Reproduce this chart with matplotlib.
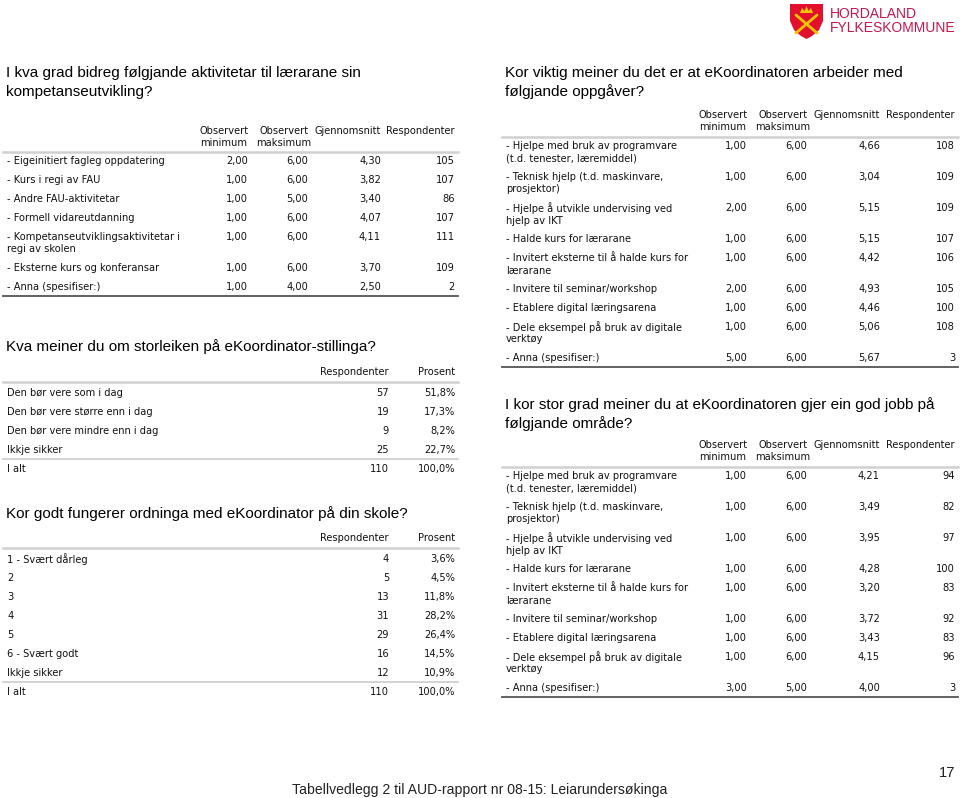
import matplotlib
matplotlib.use("Agg")
import matplotlib.pyplot as plt
from matplotlib.patches import Polygon

# ── Data ──────────────────────────────────────────────────────────────────────
Q1_TITLE = "I kva grad bidreg følgjande aktivitetar til lærarane sin\nkompetanseutvikling?"
Q1_LABELS = [
    "- Eigeinitiert fagleg oppdatering",
    "- Kurs i regi av FAU",
    "- Andre FAU-aktivitetar",
    "- Formell vidareutdanning",
    "- Kompetanseutviklingsaktivitetar i\nregi av skolen",
    "- Eksterne kurs og konferansar",
    "- Anna (spesifiser:)",
]
Q1_MIN = [2.00, 1.00, 1.00, 1.00, 1.00, 1.00, 1.00]
Q1_MAX = [6.00, 6.00, 5.00, 6.00, 6.00, 6.00, 4.00]
Q1_AVG = [4.30, 3.82, 3.40, 4.07, 4.11, 3.70, 2.50]
Q1_N   = [105, 107, 86, 107, 111, 109, 2]

Q2_TITLE = "Kva meiner du om storleiken på eKoordinator-stillinga?"
Q2_LABELS = ["Den bør vere som i dag", "Den bør vere større enn i dag",
             "Den bør vere mindre enn i dag", "Ikkje sikker"]
Q2_N   = [57, 19, 9, 25]
Q2_PCT = [51.8, 17.3, 8.2, 22.7]

Q3_TITLE = "Kor godt fungerer ordninga med eKoordinator på din skole?"
Q3_LABELS = ["1 - Svært dårleg", "2", "3", "4", "5", "6 - Svært godt", "Ikkje sikker"]
Q3_N   = [4, 5, 13, 31, 29, 16, 12]
Q3_PCT = [3.6, 4.5, 11.8, 28.2, 26.4, 14.5, 10.9]

TASKS = [
    "- Hjelpe med bruk av programvare\n(t.d. tenester, læremiddel)",
    "- Teknisk hjelp (t.d. maskinvare,\nprosjektor)",
    "- Hjelpe å utvikle undervising ved\nhjelp av IKT",
    "- Halde kurs for lærarane",
    "- Invitert eksterne til å halde kurs for\nlærarane",
    "- Invitere til seminar/workshop",
    "- Etablere digital læringsarena",
    "- Dele eksempel på bruk av digitale\nverktøy",
    "- Anna (spesifiser:)",
]

Q4_TITLE = "Kor viktig meiner du det er at eKoordinatoren arbeider med\nfølgjande oppgåver?"
Q4_MIN = [1.00, 1.00, 2.00, 1.00, 1.00, 2.00, 1.00, 1.00, 5.00]
Q4_MAX = [6.00, 6.00, 6.00, 6.00, 6.00, 6.00, 6.00, 6.00, 6.00]
Q4_AVG = [4.66, 3.04, 5.15, 5.15, 4.42, 4.93, 4.46, 5.06, 5.67]
Q4_N   = [108, 109, 109, 107, 106, 105, 100, 108, 3]

Q5_TITLE = "I kor stor grad meiner du at eKoordinatoren gjer ein god jobb på\nfølgjande område?"
Q5_MIN = [1.00, 1.00, 1.00, 1.00, 1.00, 1.00, 1.00, 1.00, 3.00]
Q5_MAX = [6.00, 6.00, 6.00, 6.00, 6.00, 6.00, 6.00, 6.00, 5.00]
Q5_AVG = [4.21, 3.49, 3.95, 4.28, 3.20, 3.72, 3.43, 4.15, 4.00]
Q5_N   = [94, 82, 97, 100, 83, 92, 83, 96, 3]

STAT_HEAD = ["Observert\nminimum", "Observert\nmaksimum", "Gjennomsnitt", "Respondenter"]
FREQ_HEAD = ["Respondenter", "Prosent"]
FOOTER = "Tabellvedlegg 2 til AUD-rapport nr 08-15: Leiarundersøkinga"
PAGE = "17"

# ── Style ─────────────────────────────────────────────────────────────────────
TITLE_FONT = "Liberation Sans"
BODY_FONT  = "DejaVu Sans"
TITLE_SIZE = 11.0
BODY_SIZE  = 7.1
TXT   = "#111111"
LIGHT = "#d0d0d0"
DARK  = "#555555"
ROW1  = 19      # single-line row height (px)
ROW2  = 31      # two-line row height (px)
LINE2 = 12.5    # second-line offset inside a row


def fmt(v):
    return f"{v:.2f}".replace(".", ",")


def fmt_pct(v):
    return f"{v:.1f}%".replace(".", ",")


def title(ax, x, y, text):
    # y = centre of the first line; further lines 19 px below
    for i, part in enumerate(text.split("\n")):
        ax.text(x, y + i * 19, part, ha="left", va="center", fontsize=TITLE_SIZE,
                family=TITLE_FONT, color="black")


def body(ax, x, y, text, ha="left"):
    ax.text(x, y, text, ha=ha, va="center", fontsize=BODY_SIZE,
            family=BODY_FONT, color=TXT)


def label(ax, x, y, text):
    for i, part in enumerate(text.split("\n")):
        body(ax, x, y + i * LINE2, part)


def stat_table(ax, x0, x1, y_head, y_first, cols, labels, mins, maxs, avgs, ns):
    # header
    for c, h in zip(cols, STAT_HEAD):
        parts = h.split("\n")
        for i, part in enumerate(parts):
            if len(parts) > 1:
                ax.text(c - 24, y_head + i * LINE2, part, ha="center", va="center",
                        fontsize=BODY_SIZE, family=BODY_FONT, color=TXT)
            else:
                body(ax, c, y_head, part, ha="right")
    ax.plot([x0, x1], [y_first - 9, y_first - 9], color=LIGHT, lw=1.8)
    y = y_first
    for lab, a, b, m, n in zip(labels, mins, maxs, avgs, ns):
        label(ax, x0 + 4, y, lab)
        body(ax, cols[0], y, fmt(a), "right")
        body(ax, cols[1], y, fmt(b), "right")
        body(ax, cols[2], y, fmt(m), "right")
        body(ax, cols[3], y, str(n), "right")
        last = y
        y += ROW2 if "\n" in lab else ROW1
    ax.plot([x0, x1], [last + 9, last + 9], color=DARK, lw=1.3)


def freq_table(ax, x0, x1, y_head, cols, labels, ns, pcts):
    body(ax, cols[0], y_head, FREQ_HEAD[0], "right")
    body(ax, cols[1], y_head, FREQ_HEAD[1], "right")
    ax.plot([x0, x1], [y_head + 10, y_head + 10], color=LIGHT, lw=1.8)
    y = y_head + 21
    for lab, n, p in zip(labels, ns, pcts):
        body(ax, x0 + 4, y, lab)
        body(ax, cols[0], y, str(n), "right")
        body(ax, cols[1], y, fmt_pct(p), "right")
        y += ROW1
    ax.plot([x0, x1], [y - 10, y - 10], color=LIGHT, lw=1.3)
    body(ax, x0 + 4, y, "I alt")
    body(ax, cols[0], y, str(sum(ns)), "right")
    body(ax, cols[1], y, fmt_pct(100.0), "right")


def logo(ax):
    shield = Polygon([(790, 4), (823, 4), (823, 21), (819, 30), (812, 36),
                      (806.5, 39), (801, 36), (794, 30), (790, 21)],
                     closed=True, facecolor="#e3102d", edgecolor="none")
    ax.add_patch(shield)
    ax.plot([796, 817], [33, 15], color="#f7c600", lw=2.0, solid_capstyle="round")
    ax.plot([796, 817], [15, 33], color="#f7c600", lw=2.0, solid_capstyle="round")
    crown = Polygon([(800, 13), (802, 8), (804.5, 11), (806.5, 6), (808.5, 11),
                     (811, 8), (813, 13)], closed=True, facecolor="#f7c600",
                    edgecolor="none")
    ax.add_patch(crown)
    for yy, t in [(14, "HORDALAND"), (28, "FYLKESKOMMUNE")]:
        ax.text(830, yy, t, ha="left", va="center", fontsize=10.0,
                family="Liberation Sans", color="#c8164a")


# ── Plot ──────────────────────────────────────────────────────────────────────
fig = plt.figure(figsize=(9.6, 7.98), dpi=100)
fig.patch.set_facecolor("white")
ax = fig.add_axes([0, 0, 1, 1])
ax.set_xlim(0, 960)
ax.set_ylim(798, 0)
ax.axis("off")

logo(ax)

# left column
title(ax, 6, 73, Q1_TITLE)
stat_table(ax, 3, 458, 131, 161, [248, 308, 381, 455],
           Q1_LABELS, Q1_MIN, Q1_MAX, Q1_AVG, Q1_N)

title(ax, 6, 347, Q2_TITLE)
freq_table(ax, 3, 458, 372, [389, 455], Q2_LABELS, Q2_N, Q2_PCT)

title(ax, 6, 514, Q3_TITLE)
freq_table(ax, 3, 458, 538, [389, 455], Q3_LABELS, Q3_N, Q3_PCT)

# right column
title(ax, 505, 73, Q4_TITLE)
stat_table(ax, 502, 958, 115, 146, [747, 807, 880, 955],
           TASKS, Q4_MIN, Q4_MAX, Q4_AVG, Q4_N)

title(ax, 505, 405, Q5_TITLE)
stat_table(ax, 502, 958, 445, 476, [747, 807, 880, 955],
           TASKS, Q5_MIN, Q5_MAX, Q5_AVG, Q5_N)

# footer
ax.text(292, 790, FOOTER, ha="left", va="center", fontsize=10.1,
        family=TITLE_FONT, color="#222222")
ax.text(955, 773, PAGE, ha="right", va="center", fontsize=10.6,
        family=TITLE_FONT, color="#222222")

fig.savefig("out.png", dpi=100, facecolor="white")
